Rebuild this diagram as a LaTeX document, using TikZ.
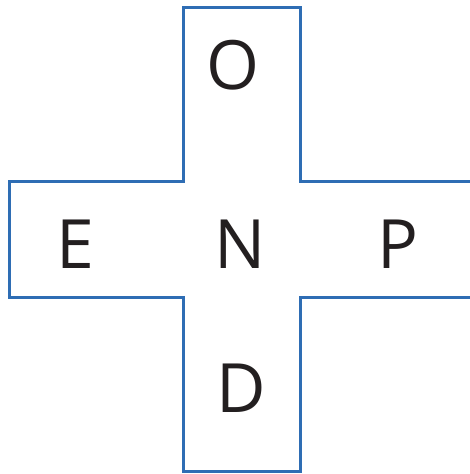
\documentclass[tikz,border=0pt]{standalone}
\usepackage{fontspec}
\setmainfont{Open Sans}
\definecolor{crossblue}{RGB}{46,109,180}
\definecolor{ink}{RGB}{35,31,32}
\begin{document}
\begin{tikzpicture}[x=1pt,y=-1pt,
  outline/.style={draw=crossblue,line width=3pt,line join=miter},
  letter/.style={anchor=base,inner sep=0pt,text=ink,font=\fontsize{68}{68}\selectfont}]
\useasboundingbox (0,0) rectangle (470,474);
\draw[outline] (471,181.5) -- (300,181.5) -- (300,7.5) -- (183.5,7.5) -- (183.5,181.5) -- (9,181.5)
  -- (9,297.5) -- (183.5,297.5) -- (183.5,471) -- (300,471) -- (300,297.5) -- (471,297.5);
\node[letter] (o) at (233,89.5) {O};
\node[letter] (e) at (75.5,268) {E};
\node[letter] (n) at (240,268) {N};
\node[letter] (p) at (398,268) {P};
\node[letter] (d) at (241.5,412) {D};
\end{tikzpicture}
\end{document}
